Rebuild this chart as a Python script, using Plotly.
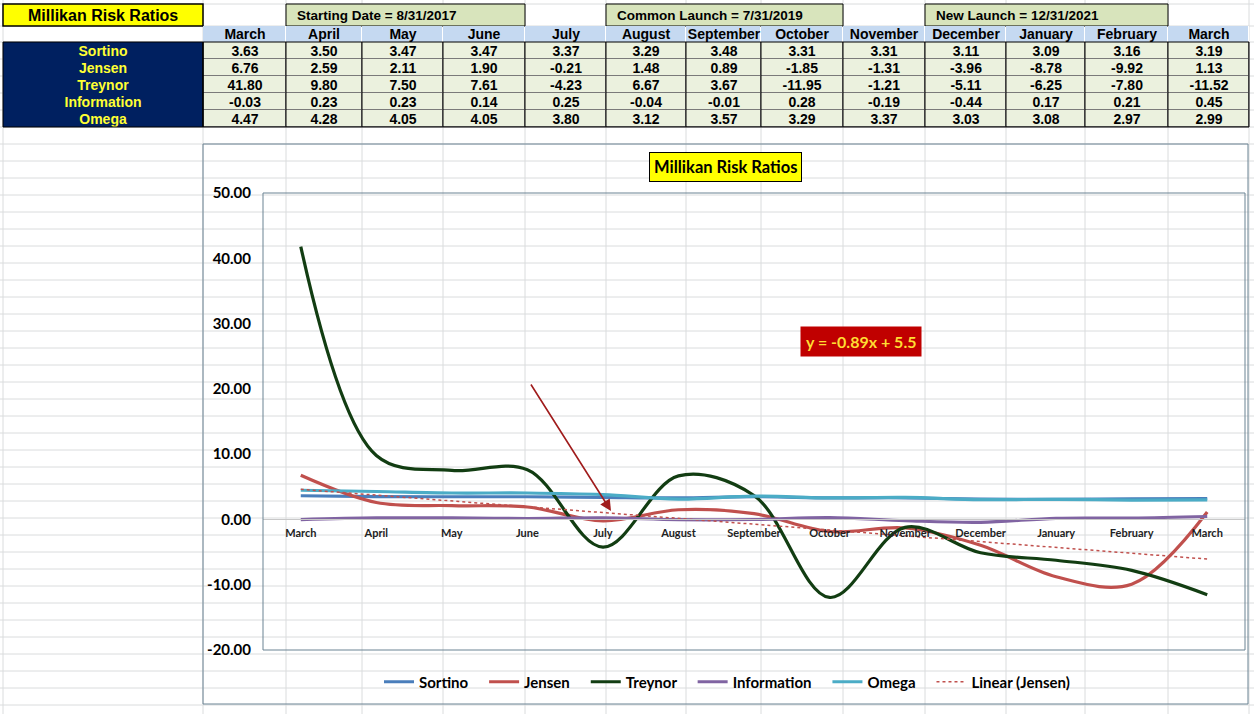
import plotly.graph_objects as go

# table / chart data
months = ["March", "April", "May", "June", "July", "August", "September",
          "October", "November", "December", "January", "February", "March"]
ratio_names = ["Sortino", "Jensen", "Treynor", "Information", "Omega"]
sortino = [3.63, 3.50, 3.47, 3.47, 3.37, 3.29, 3.48, 3.31, 3.31, 3.11, 3.09, 3.16, 3.19]
jensen = [6.76, 2.59, 2.11, 1.90, -0.21, 1.48, 0.89, -1.85, -1.31, -3.96, -8.78, -9.92, 1.13]
treynor = [41.80, 9.80, 7.50, 7.61, -4.23, 6.67, 3.67, -11.95, -1.21, -5.11, -6.25, -7.80, -11.52]
information = [-0.03, 0.23, 0.23, 0.14, 0.25, -0.04, -0.01, 0.28, -0.19, -0.44, 0.17, 0.21, 0.45]
omega = [4.47, 4.28, 4.05, 4.05, 3.80, 3.12, 3.57, 3.29, 3.37, 3.03, 3.08, 2.97, 2.99]
y_ticks = [-20, -10, 0, 10, 20, 30, 40, 50]
# Excel trendline label on the chart
trend_slope = -0.89
trend_intercept = 5.5
date_labels = ["Starting Date = 8/31/2017", "Common Launch = 7/31/2019", "New Launch = 12/31/2021"]

series = [sortino, jensen, treynor, information, omega]
colors = ["#4A7EBB", "#C0504D", "#123D12", "#8064A2", "#4BACC6"]

W, H = 1254, 714


def px(x):
    return x / W


def py(y):
    return 1 - y / H


TABLE_FONT = "Liberation Sans, Arial, sans-serif"
CHART_FONT = "Lato, Open Sans, sans-serif"

# spreadsheet column / row edges (pixels)
col_edges = [3, 203, 286, 362, 443, 525, 606, 686, 761, 843, 925, 1006, 1085, 1168, 1249]
data_rows = [42 + 17 * k for k in range(6)]
row_edges = [4, 26] + [42 + 17 * k for k in range(40) if 42 + 17 * k < H]

shapes = []
# sheet gridlines
for yy in row_edges:
    shapes.append(dict(type="line", xref="paper", yref="paper", x0=0, x1=1,
                       y0=py(yy), y1=py(yy), line=dict(color="#DADCDD", width=1), layer="below"))
for xx in col_edges:
    shapes.append(dict(type="line", xref="paper", yref="paper", x0=px(xx), x1=px(xx),
                       y0=0, y1=1, line=dict(color="#DADCDD", width=1), layer="below"))

# underlays that show through the cell gaps (dotted-looking row rules)
shapes.append(dict(type="rect", xref="paper", yref="paper", x0=px(203), x1=px(1249),
                   y0=py(42), y1=py(26), fillcolor="white", line=dict(width=0), layer="below"))
shapes.append(dict(type="rect", xref="paper", yref="paper", x0=px(203), x1=px(1249),
                   y0=py(127), y1=py(42), fillcolor="#7A7A7A", line=dict(width=0), layer="below"))

# top row boxes
shapes.append(dict(type="rect", xref="paper", yref="paper", x0=px(3), x1=px(203),
                   y0=py(26), y1=py(4), fillcolor="#FFFF00", line=dict(color="black", width=1.5),
                   layer="below"))
annotations = [dict(text="<b>Millikan Risk Ratios</b>", xref="paper", yref="paper",
                    x=px(103), y=py(15.5), xanchor="center", yanchor="middle", showarrow=False,
                    font=dict(family=TABLE_FONT, size=16, color="black"))]
for (x0, x1), label in zip([(286, 525), (606, 843), (925, 1168)], date_labels):
    shapes.append(dict(type="rect", xref="paper", yref="paper", x0=px(x0), x1=px(x1),
                       y0=py(26), y1=py(4), fillcolor="#D8E4BC",
                       line=dict(color="black", width=1), layer="below"))
    annotations.append(dict(text="<b>" + label + "</b>", xref="paper", yref="paper",
                            x=px(x0 + 9), y=py(15.5), xanchor="left", yanchor="middle",
                            showarrow=False,
                            font=dict(family=TABLE_FONT, size=13.5, color="black")))

# solid column rules in the value block
for xx in col_edges[1:-1]:
    shapes.append(dict(type="line", xref="paper", yref="paper", x0=px(xx), x1=px(xx),
                       y0=py(127), y1=py(42), line=dict(color="black", width=1)))

# table outline, chart frame, plot area frame
shapes.append(dict(type="rect", xref="paper", yref="paper", x0=px(203), x1=px(1249),
                   y0=py(127), y1=py(42), line=dict(color="black", width=1)))
shapes.append(dict(type="rect", xref="paper", yref="paper", x0=px(3), x1=px(203),
                   y0=py(127), y1=py(42), line=dict(color="black", width=1)))
shapes.append(dict(type="rect", xref="paper", yref="paper", x0=px(203), x1=px(1248),
                   y0=py(704), y1=py(144), line=dict(color="#6A8393", width=1)))
shapes.append(dict(type="rect", xref="paper", yref="paper", x0=px(263), x1=px(1245),
                   y0=py(650), y1=py(193), line=dict(color="#6A8393", width=1)))

fig = go.Figure()


def flat(c):
    return [[0, c], [1, c]]


# the table above the chart, as heatmaps on a pixel-scaled pair of axes
fig.add_trace(go.Heatmap(
    x=col_edges[1:], y=[26, 42], z=[[0] * len(months)], text=[months],
    texttemplate="<b>%{text}</b>", colorscale=flat("#C5D9F1"), zmin=0, zmax=1,
    showscale=False, hoverinfo="skip", xgap=1,
    textfont=dict(family=TABLE_FONT, size=14, color="black"),
    xaxis="x2", yaxis="y2"))
fig.add_trace(go.Heatmap(
    x=col_edges[:2], y=data_rows, z=[[0] for _ in ratio_names], text=[[n] for n in ratio_names],
    texttemplate="<b>%{text}</b>", colorscale=flat("#002060"), zmin=0, zmax=1,
    showscale=False, hoverinfo="skip",
    textfont=dict(family=TABLE_FONT, size=14, color="#FFFF33"),
    xaxis="x2", yaxis="y2"))
fig.add_trace(go.Heatmap(
    x=col_edges[1:], y=data_rows, z=[[0] * len(months) for _ in series],
    text=[[f"{v:.2f}" for v in s] for s in series],
    texttemplate="<b>%{text}</b>", colorscale=flat("#EBF1DE"), zmin=0, zmax=1,
    showscale=False, hoverinfo="skip", xgap=1, ygap=1,
    textfont=dict(family=TABLE_FONT, size=14, color="black"),
    xaxis="x2", yaxis="y2"))

xs = list(range(len(months)))
for name, vals, col in zip(ratio_names, series, colors):
    fig.add_trace(go.Scatter(x=xs, y=vals, name=name + "&nbsp;&nbsp;&nbsp;", mode="lines",
                             hoverinfo="skip",
                             line=dict(color=col, width=3.2, shape="spline", smoothing=1)))

# linear trendline on Jensen (Excel numbers points from 1)
trend = [trend_slope * (i + 1) + trend_intercept for i in xs]
fig.add_trace(go.Scatter(x=xs, y=trend, name="Linear (Jensen)", mode="lines", hoverinfo="skip",
                         line=dict(color="#C0504D", width=1.5, dash="dot")))

ydom = [py(650), py(193)]
zero_pos = ydom[0] + (0 - y_ticks[0]) / (y_ticks[-1] - y_ticks[0]) * (ydom[1] - ydom[0])

annotations += [
    dict(text="<b>Millikan Risk Ratios</b>", xref="paper", yref="paper", x=px(725), y=py(166.5),
         xanchor="center", yanchor="middle",
         showarrow=False, bgcolor="#FFFF00", bordercolor="black", borderwidth=1, borderpad=4,
         font=dict(family=CHART_FONT, size=16.5, color="black")),
    dict(text=f"<b>y = {trend_slope:.2f}x + {trend_intercept:.1f}</b>", xref="paper", yref="paper",
         x=px(860.5), y=py(341.5), xanchor="center", yanchor="middle",
         showarrow=False, bgcolor="#C00000", borderpad=5,
         font=dict(family=CHART_FONT, size=16, color="#FFDD33")),
    dict(text="", xref="paper", yref="paper", x=px(611), y=py(511), ax=-81, ay=-128,
         showarrow=True, arrowhead=2, arrowsize=1.4, arrowwidth=1.6, arrowcolor="#A01C1C"),
]

fig.update_layout(
    width=W, height=H, margin=dict(l=0, r=0, t=0, b=0, autoexpand=False),
    paper_bgcolor="white", plot_bgcolor="rgba(0,0,0,0)",
    font=dict(family=CHART_FONT, color="black"),
    xaxis=dict(domain=[px(263), px(1245)], range=[-0.5, len(months) - 0.5],
               tickvals=xs, ticktext=months, anchor="free", position=zero_pos,
               showgrid=False, zeroline=False, showline=True, linecolor="#C8C8C8",
               automargin=False, ticklabelstandoff=3,
               tickfont=dict(family=CHART_FONT, size=11, color="#222222", weight="bold"),
               fixedrange=True),
    yaxis=dict(domain=ydom, range=[y_ticks[0], y_ticks[-1]], tickvals=y_ticks,
               ticktext=[f"{v:.2f}" for v in y_ticks],
               showgrid=False, zeroline=False, showline=False,
               ticklabelstandoff=11, automargin=False,
               tickfont=dict(family=CHART_FONT, size=15, color="black", weight="bold"),
               fixedrange=True),
    xaxis2=dict(domain=[0, 1], range=[0, W], visible=False, anchor="y2", fixedrange=True,
                automargin=False),
    yaxis2=dict(domain=[0, 1], range=[H, 0], visible=False, anchor="x2", fixedrange=True,
                automargin=False),
    legend=dict(orientation="h", x=px(727), xanchor="center", y=py(682), yanchor="middle",
                bgcolor="rgba(0,0,0,0)", itemwidth=30,
                font=dict(family=CHART_FONT, size=15, color="black", weight="bold")),
    shapes=shapes,
    annotations=annotations,
)

fig.write_html("out.html", config={"displayModeBar": False},
               post_script="document.body.style.margin='0';")
